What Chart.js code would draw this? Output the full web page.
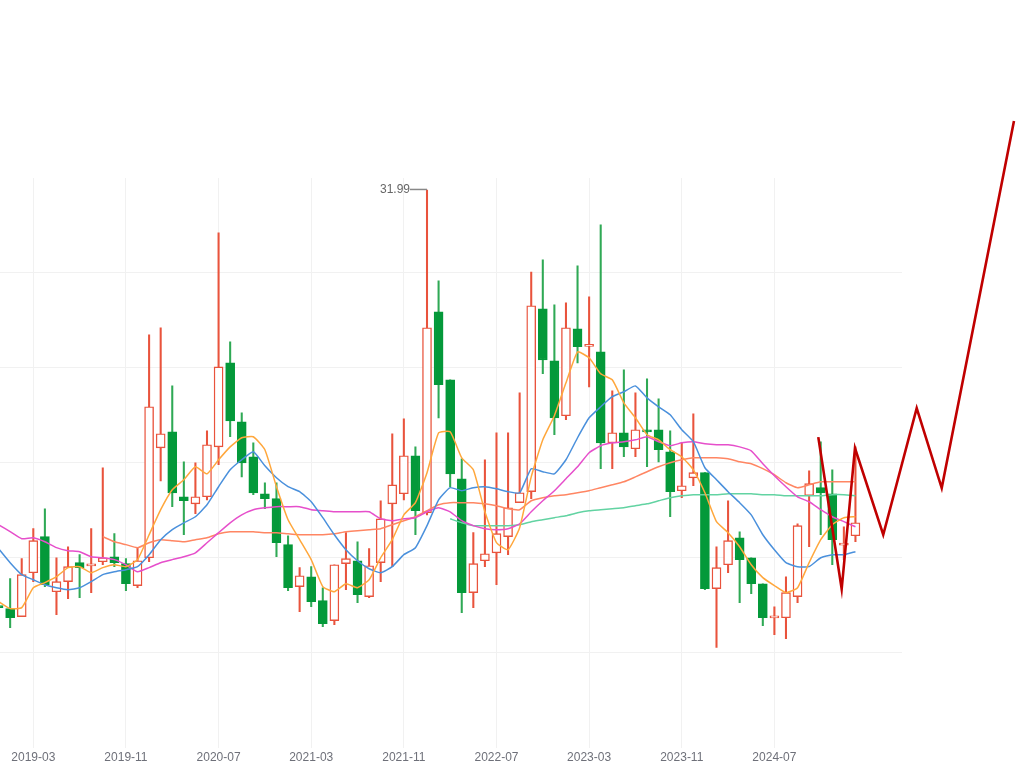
<!DOCTYPE html>
<html>
<head>
<meta charset="utf-8">
<script src="https://cdn.jsdelivr.net/npm/chart.js@4.4.0/dist/chart.umd.min.js"></script>
<style>
html,body{margin:0;padding:0;background:#ffffff;overflow:hidden}
#wrap{position:relative;width:1024px;height:768px}
</style>
</head>
<body>
<div id="wrap"><canvas id="c" width="1024" height="768"></canvas></div>
<script>
// ---- categories (monthly candles) ----
const months = ['2018-12',
 '2019-01','2019-02','2019-03','2019-04','2019-05','2019-06','2019-07','2019-08','2019-09','2019-10','2019-11','2019-12',
 '2020-01','2020-02','2020-03','2020-04','2020-05','2020-06','2020-07','2020-08','2020-09','2020-10','2020-11','2020-12',
 '2021-01','2021-02','2021-03','2021-04','2021-05','2021-06','2021-07','2021-08','2021-09','2021-10','2021-11','2021-12',
 '2022-01','2022-02','2022-03','2022-04','2022-05','2022-06','2022-07','2022-08','2022-09','2022-10','2022-11','2022-12',
 '2023-01','2023-02','2023-03','2023-04','2023-05','2023-06','2023-07','2023-08','2023-09','2023-10','2023-11','2023-12',
 '2024-01','2024-02','2024-03','2024-04','2024-05','2024-06','2024-07','2024-08','2024-09','2024-10','2024-11','2024-12',
 '2025-01','2025-02'];

const xTickLabels = ['2019-03','2019-11','2020-07','2021-03','2021-11','2022-07','2023-03','2023-11','2024-07'];

// ---- OHLC ----
const open = [10.09, 9.94, 9.52, 11.83, 13.73, 10.83, 11.36, 12.36, 12.19, 12.41,
 12.67, 12.31, 11.15, 12.62, 18.41, 19.25, 15.83, 15.46, 15.83, 18.46,
 22.88, 19.78, 17.94, 15.99, 15.73, 13.31, 11.10, 11.62, 10.36, 9.31,
 12.31, 12.46, 10.57, 12.36, 15.46, 15.99, 17.99, 14.99, 25.57, 21.99,
 16.78, 10.78, 12.46, 12.88, 13.73, 15.52, 16.10, 25.73, 22.99, 20.10,
 24.67, 23.75, 23.46, 18.67, 19.20, 18.36, 19.36, 19.36, 18.20, 16.15,
 16.83, 17.10, 10.99, 12.25, 13.67, 12.62, 11.25, 9.45, 9.46, 10.57,
 15.89, 16.31, 15.99, 13.28, 13.78];
const high = [10.20, 11.52, 12.57, 14.15, 15.20, 12.62, 13.20, 12.78, 14.15, 17.36,
 13.89, 12.57, 13.15, 24.36, 24.73, 21.67, 17.67, 17.62, 19.31, 29.73,
 23.99, 20.25, 18.67, 16.57, 16.57, 13.78, 12.10, 12.15, 11.04, 12.25,
 13.94, 13.46, 13.10, 15.62, 19.15, 19.94, 18.46, 31.99, 27.20, 21.99,
 17.83, 13.94, 17.78, 19.20, 19.20, 21.31, 27.67, 28.31, 25.94, 26.04,
 27.99, 26.36, 30.15, 21.41, 22.52, 21.31, 22.04, 20.99, 19.31, 18.67,
 20.20, 17.10, 13.20, 15.62, 13.99, 12.62, 11.25, 10.04, 11.62, 14.41,
 17.20, 18.73, 17.25, 14.25, 18.46];
const low = [9.88, 8.94, 9.52, 11.36, 11.10, 9.62, 10.46, 10.52, 10.78, 12.25,
 12.15, 10.89, 11.04, 12.41, 16.67, 15.31, 13.83, 14.94, 15.67, 17.52,
 18.99, 16.88, 15.94, 15.20, 12.67, 10.89, 9.78, 10.04, 8.99, 9.10,
 10.94, 10.25, 10.52, 11.36, 12.15, 15.67, 13.83, 14.88, 19.99, 16.36,
 9.73, 9.99, 12.15, 11.20, 12.78, 15.52, 15.73, 22.31, 19.10, 19.89,
 22.88, 21.62, 17.31, 17.31, 17.94, 17.94, 17.41, 17.67, 14.78, 15.78,
 16.41, 10.94, 7.89, 11.83, 10.25, 10.73, 9.04, 8.57, 8.36, 10.25,
 13.20, 13.83, 12.25, 12.52, 13.46];
const close = [9.99, 9.46, 11.73, 13.52, 11.20, 11.36, 12.15, 12.10, 12.22, 12.62,
 12.36, 11.25, 12.46, 20.57, 19.15, 16.04, 15.62, 15.83, 18.57, 22.67,
 19.83, 17.62, 16.04, 15.73, 13.41, 11.04, 11.67, 10.31, 9.15, 12.25,
 12.57, 10.67, 12.20, 14.67, 16.46, 17.99, 15.10, 24.73, 21.73, 17.04,
 10.78, 12.31, 12.83, 13.89, 15.25, 16.04, 25.89, 23.04, 19.99, 24.73,
 23.73, 23.78, 18.67, 19.20, 18.46, 19.36, 19.25, 18.31, 16.10, 16.41,
 17.10, 10.99, 12.10, 13.52, 12.52, 11.25, 9.46, 9.46, 10.78, 14.31,
 16.52, 16.04, 13.57, 13.31, 14.46];

// ---- moving averages ----
const ma5 = [10.31, 9.94, 9.99, 11.04, 11.31, 11.62, 12.10, 12.15, 11.83, 12.10,
 12.25, 12.15, 12.52, 13.83, 15.15, 16.20, 16.73, 17.41, 17.04, 17.78,
 18.46, 18.94, 18.99, 18.31, 16.36, 14.62, 13.57, 12.52, 11.10, 10.83,
 11.25, 11.04, 11.46, 12.62, 13.57, 14.88, 15.52, 17.10, 19.20, 19.25,
 17.88, 17.25, 15.04, 13.41, 13.04, 14.20, 16.88, 18.83, 20.10, 21.83,
 23.46, 23.15, 22.31, 21.99, 20.78, 19.99, 19.10, 18.83, 18.31, 17.94,
 17.25, 16.04, 14.52, 13.94, 13.20, 12.25, 11.57, 11.15, 10.78, 11.04,
 12.36, 13.57, 14.36, 14.73, 14.78];
const ma10 = [13.10, 12.36, 11.73, 11.46, 11.20, 11.04, 10.94, 11.04, 11.36, 11.73,
 11.88, 11.99, 12.15, 12.78, 13.57, 14.10, 14.46, 14.78, 15.41, 16.36,
 17.25, 17.78, 18.20, 17.46, 16.83, 16.36, 16.10, 15.57, 14.73, 13.83,
 13.04, 12.46, 12.04, 11.83, 12.15, 12.78, 13.15, 14.31, 15.67, 16.31,
 16.15, 16.31, 16.36, 16.25, 16.10, 16.04, 17.31, 17.15, 17.04, 17.78,
 18.94, 19.99, 20.57, 21.10, 21.36, 21.67, 21.04, 20.57, 20.15, 19.36,
 18.73, 17.36, 16.73, 16.10, 15.52, 14.88, 13.83, 13.04, 12.36, 12.15,
 12.15, 12.62, 12.78, 12.78, 12.94];
const ma20 = [14.36, 13.99, 13.62, 13.67, 13.46, 13.15, 12.99, 12.94, 12.67, 12.62,
 12.52, 12.25, 11.88, 12.10, 12.36, 12.52, 12.67, 12.88, 13.41, 13.94,
 14.46, 14.88, 15.15, 15.25, 15.31, 15.31, 15.31, 15.15, 15.10, 15.04,
 15.04, 15.04, 15.04, 14.67, 14.57, 14.67, 14.73, 15.04, 15.25, 15.04,
 14.57, 14.31, 14.15, 14.10, 14.15, 14.41, 15.04, 15.62, 16.15, 16.78,
 17.41, 18.15, 18.52, 18.67, 18.73, 18.83, 18.99, 18.73, 18.52, 18.67,
 18.73, 18.62, 18.57, 18.57, 18.46, 18.25, 17.57, 16.94, 16.36, 15.83,
 15.57, 15.15, 14.78, 14.52, 14.25];
const ma30 = [null, null, null, null, null, null, null, null, null,
 13.73, 13.46, 13.31, 13.15, 13.41, 13.57, 13.52, 13.46, 13.57, 13.67,
 13.88, 13.99, 13.99, 13.99, 13.94, 13.94, 13.88, 13.83, 13.83, 13.83,
 13.88, 13.99, 14.04, 14.10, 14.15, 14.36, 14.57, 14.78, 15.10, 15.41,
 15.52, 15.52, 15.52, 15.46, 15.36, 15.20, 15.15, 15.62, 15.78, 15.88,
 15.94, 16.04, 16.15, 16.31, 16.46, 16.62, 16.88, 17.15, 17.41, 17.62,
 17.78, 17.88, 17.88, 17.88, 17.83, 17.67, 17.57, 17.31, 16.99, 16.57,
 16.31, 16.46, 16.62, 16.62, 16.62, 16.62];
const ma60Lead = 39; // months before the 60-month average exists in view
const ma60Values = [14.67, 14.46, 14.31, 14.31, 14.31, 14.31, 14.36, 14.52, 14.62, 14.73,
 14.83, 14.99, 15.10, 15.15, 15.20, 15.25, 15.36, 15.46, 15.62, 15.78,
 15.88, 15.94, 15.94, 15.94, 15.99, 15.99, 15.99, 15.94, 15.94, 15.88,
 15.88, 15.88, 15.88, 15.94, 15.94, 15.88];
const ma60 = new Array(ma60Lead).fill(null).concat(ma60Values);

// ---- hand-drawn projection (month position, price) ----
const waveX = [70.79, 72.81, 73.96, 76.40, 79.29, 81.45, 87.69];
const waveY = [18.97, 10.97, 18.40, 13.83, 20.50, 16.29, 35.62];

// ---- visible window / grid ----
const xView = [0.124, 78.02];
const yView = [2.62, 32.62];
const yGridValues = [27.62, 22.62, 17.62, 12.62, 7.62];

const RED = '#e9533c';
const GREEN = '#04993a';
const GREEN_WICK = '#2fa955';
const up = close.map((c, i) => c >= open[i]);

const lineDs = (label, arr, color, order) => ({
  type: 'line', label,
  data: arr.map((v, i) => ({x: i, y: v})),
  borderColor: color, borderWidth: 1.5, pointRadius: 0, tension: 0.15,
  spanGaps: false, order
});

const maxLabel = {
  id: 'maxLabel',
  afterDatasetsDraw(chart) {
    const {ctx, scales} = chart;
    let mi = 0;
    high.forEach((v, i) => { if (v > high[mi]) mi = i; });
    const px = scales.x.getPixelForValue(mi);
    const py = scales.y.getPixelForValue(high[mi]) - 0.5;
    ctx.save();
    ctx.strokeStyle = '#888888';
    ctx.lineWidth = 1.5;
    ctx.beginPath(); ctx.moveTo(px, py); ctx.lineTo(px - 17, py); ctx.stroke();
    ctx.fillStyle = '#666666';
    ctx.font = '12px "Liberation Sans", Arial, sans-serif';
    ctx.textAlign = 'right'; ctx.textBaseline = 'middle';
    ctx.fillText(high[mi].toFixed(2), px - 17, py);
    ctx.restore();
  }
};

new Chart(document.getElementById('c'), {
  data: {
    datasets: [
      { type: 'bar', label: 'wick',
        data: months.map((m, i) => ({x: i, y: [low[i], high[i]]})),
        backgroundColor: c => up[c.dataIndex] ? RED : GREEN_WICK,
        barThickness: 1.4, grouped: false, order: 20 },
      { type: 'bar', label: 'body',
        data: months.map((m, i) => ({x: i, y: [open[i], close[i]]})),
        backgroundColor: c => up[c.dataIndex] ? '#ffffff' : GREEN,
        borderColor: c => up[c.dataIndex] ? RED : GREEN,
        borderWidth: 1.4, borderSkipped: false, barThickness: 9, minBarLength: 2,
        grouped: false, order: 19 },
      lineDs('MA60', ma60, '#62d3a2', 8),
      lineDs('MA30', ma30, '#ff8663', 7),
      lineDs('MA20', ma20, '#e64fcb', 6),
      lineDs('MA10', ma10, '#4a90dc', 5),
      lineDs('MA5', ma5, '#ffa73c', 4),
      { type: 'line', label: 'wave',
        data: waveX.map((x, i) => ({x, y: waveY[i]})),
        borderColor: '#c00000', borderWidth: 2.6, pointRadius: 0, tension: 0,
        clip: false, order: 0 }
    ]
  },
  options: {
    responsive: false,
    animation: false,
    layout: {padding: {top: 178, bottom: 0, left: 0, right: 0}},
    plugins: {legend: {display: false}, tooltip: {enabled: false}},
    scales: {
      x: {
        type: 'linear', bounds: 'data', offset: false,
        afterDataLimits: s => { s.min = xView[0]; s.max = xView[1]; },
        afterBuildTicks: s => { s.ticks = xTickLabels.map(l => ({value: months.indexOf(l)})); },
        ticks: {autoSkip: false, maxRotation: 0, padding: 3, color: '#6e7079',
          font: {size: 12, family: '"Liberation Sans", Arial, sans-serif'},
          callback: v => months[v]},
        grid: {color: '#f1f1f1', drawTicks: false, offset: false},
        border: {display: false}
      },
      y: {
        type: 'linear', position: 'right', bounds: 'data',
        afterDataLimits: s => { s.min = yView[0]; s.max = yView[1]; },
        afterBuildTicks: s => { s.ticks = yGridValues.map(v => ({value: v})); },
        afterFit: s => { s.width = 122; },
        ticks: {display: false},
        grid: {color: '#f1f1f1', drawTicks: false},
        border: {display: false}
      }
    }
  },
  plugins: [maxLabel]
});
</script>
</body>
</html>
